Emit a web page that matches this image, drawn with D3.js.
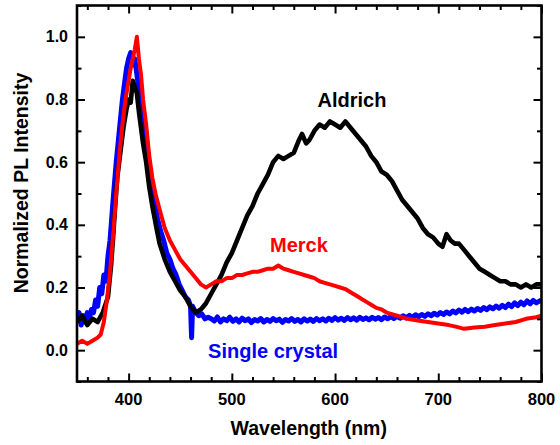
<!DOCTYPE html>
<html>
<head>
<meta charset="utf-8">
<script src="https://cdn.jsdelivr.net/npm/d3@7"></script>
<style>
  body { margin: 0; background: #fff; }
  text { font-family: "Liberation Sans", Arial, sans-serif; font-weight: bold; }
</style>
</head>
<body>
<div id="chart"></div>
<script>
// PL spectra: [wavelength (nm), normalized intensity]
const aldrich = [
  [350,0.09],[355,0.11],[360,0.08],[365,0.10],[370,0.09],[375,0.12],[380,0.17],[383,0.27],
  [385,0.36],[387,0.46],[389,0.55],[392,0.63],[395,0.71],[398,0.77],[400,0.80],[402,0.79],
  [404,0.86],[406,0.84],[408,0.82],[410,0.76],[412,0.71],[414,0.66],[417,0.60],[420,0.52],
  [423,0.46],[427,0.39],[430,0.34],[435,0.29],[440,0.25],[445,0.22],[450,0.19],[455,0.17],
  [460,0.14],[465,0.12],[470,0.13],[475,0.15],[480,0.18],[485,0.21],[490,0.24],[495,0.28],
  [500,0.31],[505,0.35],[510,0.39],[515,0.43],[520,0.46],[525,0.50],[530,0.53],[535,0.56],
  [540,0.60],[545,0.62],[550,0.61],[555,0.62],[560,0.63],[565,0.67],[568,0.69],[572,0.66],
  [575,0.67],[580,0.70],[585,0.72],[590,0.71],[595,0.73],[600,0.72],[605,0.71],[610,0.73],
  [615,0.71],[620,0.69],[625,0.67],[630,0.65],[635,0.62],[640,0.60],[645,0.57],[650,0.56],
  [655,0.54],[660,0.51],[665,0.48],[670,0.46],[675,0.44],[680,0.42],[685,0.39],[690,0.37],
  [695,0.36],[700,0.34],[704,0.33],[708,0.37],[712,0.35],[716,0.34],[720,0.34],[725,0.32],
  [730,0.30],[735,0.28],[740,0.26],[745,0.25],[750,0.24],[755,0.23],[760,0.22],[765,0.22],
  [770,0.21],[775,0.21],[780,0.20],[785,0.21],[790,0.20],[795,0.21],[800,0.21]
];

const merck = [
  [350,0.02],[355,0.03],[360,0.02],[365,0.03],[370,0.04],[373,0.05],[376,0.09],[379,0.16],
  [382,0.25],[385,0.37],[388,0.50],[391,0.62],[394,0.72],[397,0.80],[400,0.86],[402,0.90],
  [404,0.93],[406,0.96],[408,1.00],[410,0.93],[412,0.88],[414,0.80],[417,0.72],[420,0.62],
  [423,0.55],[426,0.50],[430,0.45],[435,0.39],[440,0.35],[445,0.32],[450,0.29],[455,0.27],
  [460,0.25],[465,0.23],[470,0.21],[475,0.20],[480,0.21],[485,0.22],[490,0.22],[495,0.23],
  [500,0.23],[505,0.24],[510,0.24],[515,0.245],[520,0.25],[525,0.25],[530,0.255],[535,0.26],
  [540,0.26],[545,0.27],[550,0.26],[555,0.255],[560,0.25],[565,0.245],[570,0.24],[575,0.235],
  [580,0.23],[585,0.22],[590,0.215],[595,0.21],[600,0.205],[605,0.20],[610,0.195],[615,0.185],
  [620,0.175],[625,0.165],[630,0.155],[635,0.145],[640,0.135],[645,0.13],[650,0.12],[655,0.115],
  [660,0.11],[665,0.105],[670,0.10],[680,0.095],[690,0.09],[700,0.085],[710,0.08],[717,0.075],
  [725,0.068],[735,0.072],[745,0.075],[755,0.08],[765,0.085],[775,0.09],[785,0.10],[795,0.105],
  [800,0.11]
];

const singleCrystal = [
  [350,0.10],[352,0.12],[354,0.08],[356,0.11],[358,0.09],[360,0.12],[362,0.10],[364,0.13],
  [366,0.12],[368,0.16],[370,0.14],[372,0.20],[374,0.18],[376,0.24],[378,0.22],[380,0.30],
  [382,0.35],[385,0.48],[388,0.60],[391,0.70],[394,0.80],[396,0.85],[398,0.90],[400,0.93],
  [402,0.95],[404,0.91],[406,0.93],[408,0.88],[410,0.83],[413,0.76],[416,0.68],[419,0.60],
  [422,0.52],[425,0.47],[428,0.42],[431,0.38],[434,0.35],[437,0.31],[440,0.29],[443,0.26],
  [446,0.24],[449,0.21],[452,0.19],[455,0.17],[458,0.16],[460,0.14],[461,0.04],[462,0.14],
  [465,0.12],[468,0.11],[471,0.115],[474,0.10],[477,0.105],[480,0.10],[483,0.093],[486,0.106],
  [489,0.09],[492,0.10],[495,0.094],[498,0.105],[501,0.092],[504,0.10],[507,0.09],[510,0.102],
  [513,0.094],[516,0.1],[519,0.088],[522,0.098],[525,0.093],[528,0.101],[531,0.09],[534,0.098],
  [537,0.092],[540,0.101],[543,0.094],[546,0.099],[549,0.089],[552,0.098],[555,0.093],[558,0.101],
  [561,0.092],[564,0.098],[567,0.09],[570,0.1],[573,0.093],[576,0.099],[579,0.092],[582,0.101],
  [585,0.094],[588,0.1],[591,0.093],[594,0.102],[597,0.095],[600,0.104],[603,0.096],[606,0.102],
  [609,0.095],[612,0.104],[615,0.097],[618,0.103],[621,0.096],[624,0.105],[627,0.098],[630,0.103],
  [633,0.097],[636,0.105],[639,0.099],[642,0.104],[645,0.097],[648,0.106],[651,0.1],[654,0.107],
  [657,0.101],[660,0.108],[663,0.102],[666,0.11],[669,0.103],[672,0.111],[675,0.105],[678,0.113],
  [681,0.107],[684,0.114],[687,0.108],[690,0.116],[693,0.11],[696,0.118],[699,0.112],[702,0.12],
  [705,0.114],[708,0.122],[711,0.116],[714,0.125],[717,0.119],[720,0.128],[723,0.121],[726,0.13],
  [729,0.123],[732,0.131],[735,0.125],[738,0.133],[741,0.127],[744,0.136],[747,0.129],[750,0.138],
  [753,0.132],[756,0.141],[759,0.134],[762,0.143],[765,0.136],[768,0.147],[771,0.139],[774,0.151],
  [777,0.142],[780,0.153],[783,0.145],[786,0.157],[789,0.148],[792,0.159],[795,0.151],[800,0.16]
];

const xTicks = [400, 500, 600, 700, 800];
const yTicks = [0.0, 0.2, 0.4, 0.6, 0.8, 1.0];

// label name, colour, anchor position in data units
const seriesLabels = [
  {name: "Aldrich", color: "#000000", nm: 583, v: 0.777},
  {name: "Merck", color: "#ff0000", nm: 537, v: 0.314},
  {name: "Single crystal", color: "#0000ff", nm: 477, v: -0.025}
];

const width = 560;
const height = 445;
const margin = {top: 5.5, right: 18.5, bottom: 63.5, left: 77};

const svg = d3.select("#chart")
    .append("svg")
    .attr("width", width)
    .attr("height", height);

const x = d3.scaleLinear()
    .domain([350, 800])
    .range([margin.left, width - margin.right]);

const y = d3.scaleLinear()
    .domain([-0.1, 1.1])
    .range([height - margin.bottom, margin.top]);

const x0 = x.range()[0], x1 = x.range()[1];
const y0 = y.range()[0], y1 = y.range()[1];

// clip so the thick lines don't spill over the frame
svg.append("clipPath").attr("id", "clip")
    .append("rect")
    .attr("x", x0).attr("y", y1)
    .attr("width", x1 - x0).attr("height", y0 - y1);

const line = d3.line()
    .x(function(d) { return x(d[0]); })
    .y(function(d) { return y(d[1]); });

const plot = svg.append("g").attr("clip-path", "url(#clip)");

plot.append("path")
    .datum(singleCrystal)
    .attr("d", line)
    .attr("fill", "none")
    .attr("stroke", "#0000ff")
    .attr("stroke-width", 5)
    .attr("stroke-linejoin", "round");

plot.append("path")
    .datum(aldrich)
    .attr("d", line)
    .attr("fill", "none")
    .attr("stroke", "#000000")
    .attr("stroke-width", 4.6)
    .attr("stroke-linejoin", "round");

plot.append("path")
    .datum(merck)
    .attr("d", line)
    .attr("fill", "none")
    .attr("stroke", "#ff0000")
    .attr("stroke-width", 4)
    .attr("stroke-linejoin", "round");

// ticks on all four sides, pointing inward
const xMinor = d3.range(360, 800, 20).filter(function(v) { return xTicks.indexOf(v) < 0; });
const yMinor = [-0.1, 0.1, 0.3, 0.5, 0.7, 0.9, 1.1];

function tickAxis(axisFn, scale, ticks, len, transform) {
  const g = svg.append("g")
      .attr("transform", transform)
      .call(axisFn(scale).tickValues(ticks).tickSize(-len).tickFormat(""));
  g.select(".domain").remove();
  g.selectAll("line").attr("stroke", "#000").attr("stroke-width", 2);
  return g;
}

tickAxis(d3.axisBottom, x, xTicks, 8, "translate(0," + y0 + ")");
tickAxis(d3.axisBottom, x, xMinor, 4.5, "translate(0," + y0 + ")");
tickAxis(d3.axisTop, x, xTicks, 8, "translate(0," + y1 + ")");
tickAxis(d3.axisTop, x, xMinor, 4.5, "translate(0," + y1 + ")");
tickAxis(d3.axisLeft, y, yTicks, 8, "translate(" + x0 + ",0)");
tickAxis(d3.axisLeft, y, yMinor, 4.5, "translate(" + x0 + ",0)");
tickAxis(d3.axisRight, y, yTicks, 8, "translate(" + x1 + ",0)");
tickAxis(d3.axisRight, y, yMinor, 4.5, "translate(" + x1 + ",0)");

// frame
svg.append("rect")
    .attr("x", x0).attr("y", y1)
    .attr("width", x1 - x0).attr("height", y0 - y1)
    .attr("fill", "none")
    .attr("stroke", "#000")
    .attr("stroke-width", 2.6);

// tick labels
svg.append("g")
    .selectAll("text")
    .data(xTicks)
    .join("text")
    .attr("x", function(d) { return x(d); })
    .attr("y", y0 + 23.5)
    .attr("text-anchor", "middle")
    .attr("font-size", 16.5)
    .text(function(d) { return d; });

svg.append("g")
    .selectAll("text")
    .data(yTicks)
    .join("text")
    .attr("x", x0 - 9)
    .attr("y", function(d) { return y(d) + 5.5; })
    .attr("text-anchor", "end")
    .attr("font-size", 16)
    .text(function(d) { return d3.format(".1f")(d); });

// axis titles
svg.append("text")
    .attr("x", (x0 + x1) / 2 - 0.5)
    .attr("y", 435)
    .attr("text-anchor", "middle")
    .attr("font-size", 19.5)
    .text("Wavelength (nm)");

svg.append("text")
    .attr("transform", "translate(28," + 183 + ") rotate(-90)")
    .attr("text-anchor", "middle")
    .attr("font-size", 19.5)
    .text("Normalized PL Intensity");

// curve labels
svg.append("g")
    .selectAll("text")
    .data(seriesLabels)
    .join("text")
    .attr("x", function(d) { return x(d.nm); })
    .attr("y", function(d) { return y(d.v); })
    .attr("font-size", 20)
    .attr("fill", function(d) { return d.color; })
    .text(function(d) { return d.name; });
</script>
</body>
</html>
